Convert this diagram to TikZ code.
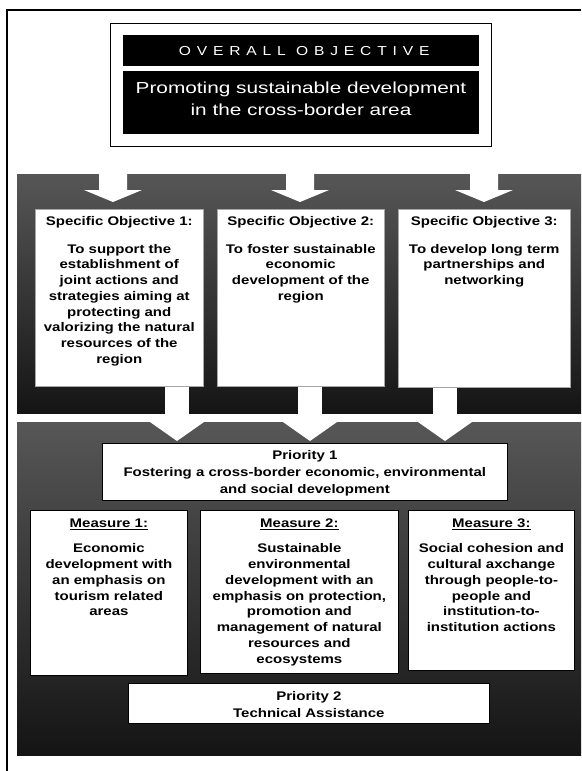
\documentclass[tikz,border=0pt]{standalone}
\usepackage{fontspec}
\setmainfont{Liberation Sans}
\newfontfamily\bodyfont[FakeStretch=1.2]{Liberation Sans}
\newfontfamily\headfont[FakeStretch=1.3]{Liberation Sans}
\newfontfamily\capsfont[FakeStretch=1.2,LetterSpace=45]{Liberation Sans}
\definecolor{bandtop}{gray}{0.34}
\definecolor{bandbot}{gray}{0.08}
\begin{document}
\begin{tikzpicture}[x=1pt,y=-1pt,
  box/.style={draw=black,line width=0.7pt,fill=white,inner sep=0pt},
  sobox/.style={draw=gray!70,line width=0.5pt,fill=white,inner sep=0pt,anchor=north west},
  mbox/.style={draw=black,line width=0.8pt,fill=white,inner sep=0pt,anchor=north west},
  body/.style={font=\bodyfont\bfseries\fontsize{12.5}{15.7}\selectfont,align=center,inner sep=0pt},
  mbody/.style={font=\bodyfont\bfseries\fontsize{12.5}{15.8}\selectfont,align=center,inner sep=0pt},
  blackband/.style={fill=black,inner sep=0pt,anchor=north west},
  arrowfill/.style={fill=white}
]
\useasboundingbox (0,0) rectangle (581,771);
\fill[white] (0,0) rectangle (581,771);
% outer frame
\draw[line width=1.2pt] (7,771) -- (7,10) -- (581,10);

% overall objective
\node[box, minimum width=381, minimum height=123, anchor=north west] (ovbox) at (110,23) {};
\node[blackband, minimum width=356, minimum height=31] (ovtitle) at (123,35) {};
\node[text=white, font=\capsfont\fontsize{13}{15}\selectfont, inner sep=0pt] (ovtitletext) at ([xshift=3pt]ovtitle.center) {OVERALL OBJECTIVE};
\node[blackband, minimum width=356, minimum height=63] (ovmain) at (123,71) {};
\node[text=white, font=\headfont\fontsize{16}{22}\selectfont, align=center, inner sep=0pt] (ovmaintext) at (301,99) {Promoting sustainable development\\in the cross-border area};

% upper band
\shade[top color=bandtop, bottom color=bandbot] (17,174) rectangle (581,413);
\foreach \cx in {113,300,484}{
  \fill[arrowfill] (\cx-14,174) -- (\cx+14,174) -- (\cx+14,190) -- (\cx+29,190) -- (\cx,202) -- (\cx-29,190) -- (\cx-14,190) -- cycle;
}
% lower band
\shade[top color=bandtop, bottom color=bandbot] (17,422) rectangle (581,755);
\foreach \cx in {177,310,445}{
  \fill[arrowfill] (\cx-12,384) rectangle (\cx+12,423);
  \fill[arrowfill] (\cx-27,422) -- (\cx+27,422) -- (\cx,441) -- cycle;
}

% specific objectives
\node[sobox, minimum width=168, minimum height=177] (so1) at (35,209) {};
\node[sobox, minimum width=167, minimum height=177] (so2) at (217,209) {};
\node[sobox, minimum width=172, minimum height=178] (so3) at (398,209) {};
\node[body, anchor=north, text width=165] (so1t) at ([yshift=-7pt]so1.north) {Specific Objective 1:\\[12.3pt]To support the\\establishment of\\joint actions and\\strategies aiming at\\protecting and\\valorizing the natural\\resources of the\\region};
\node[body, anchor=north, text width=165] (so2t) at ([yshift=-7pt]so2.north) {Specific Objective 2:\\[12.3pt]To foster sustainable\\economic\\development of the\\region};
\node[body, anchor=north, text width=170] (so3t) at ([yshift=-7pt]so3.north) {Specific Objective 3:\\[12.3pt]To develop long term\\partnerships and\\networking};

% priority 1
\node[box, minimum width=405, minimum height=57, anchor=north west] (p1) at (102,443) {};
\node[body, font=\bodyfont\bfseries\fontsize{12.5}{17}\selectfont] (p1t) at ([yshift=-1pt]p1.center) {Priority 1\\Fostering a cross-border economic, environmental\\and social development};

% measures
\node[mbox, minimum width=157, minimum height=165] (m1) at (30,510) {};
\node[mbox, minimum width=198, minimum height=163] (m2) at (200,510) {};
\node[mbox, minimum width=166, minimum height=160] (m3) at (408,510) {};
\node[mbody, anchor=north, text width=155] (m1t) at ([yshift=-9pt]m1.north) {\underline{Measure 1:}\\[9pt]Economic\\development with\\an emphasis on\\tourism related\\areas};
\node[mbody, anchor=north, text width=196] (m2t) at ([yshift=-9pt]m2.north) {\underline{Measure 2:}\\[9pt]Sustainable\\environmental\\development with an\\emphasis on protection,\\promotion and\\management of natural\\resources and\\ecosystems};
\node[mbody, anchor=north, text width=164] (m3t) at ([yshift=-9pt]m3.north) {\underline{Measure 3:}\\[9pt]Social cohesion and\\cultural axchange\\through people-to-\\people and\\institution-to-\\institution actions};

% priority 2
\node[box, minimum width=361, minimum height=40, anchor=north west] (p2) at (128,683) {};
\node[body, font=\bodyfont\bfseries\fontsize{12.5}{17}\selectfont] (p2t) at ([yshift=-1pt]p2.center) {Priority 2\\Technical Assistance};
\end{tikzpicture}
\end{document}
